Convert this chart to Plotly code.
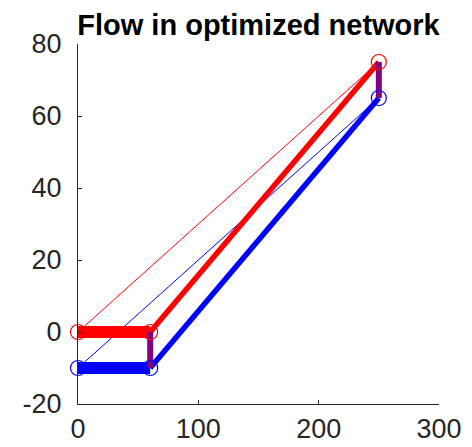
import plotly.graph_objects as go

# Node positions of the two layers (shared x, separate y)
x_nodes = [0, 60, 250]
red_nodes = [0, 0, 75]
blue_nodes = [-10, -10, 65]

# Links between node indices, drawn in order thin -> thick
links = [(0, 2), (0, 1), (1, 2)]
link_widths = [1, 12, 5.5]

x_ticks = [0, 100, 200, 300]
y_ticks = [-20, 0, 20, 40, 60, 80]
y_tick_text = ["-20", "0", "20", "40", "60", "80"]

RED = "#ff0000"
BLUE = "#0000ff"
PURPLE = "#800080"
AXIS = "#262626"

fig = go.Figure()

for (i, j), w in zip(links, link_widths):
    for ys, col in ((red_nodes, RED), (blue_nodes, BLUE)):
        fig.add_trace(go.Scatter(
            x=[x_nodes[i], x_nodes[j]], y=[ys[i], ys[j]],
            mode="lines", line=dict(color=col, width=w),
            showlegend=False, hoverinfo="skip", cliponaxis=False,
        ))

# Couplings between the two layers at the shared nodes
for k in (1, 2):
    fig.add_trace(go.Scatter(
        x=[x_nodes[k], x_nodes[k]], y=[red_nodes[k], blue_nodes[k]],
        mode="lines", line=dict(color=PURPLE, width=6),
        showlegend=False, hoverinfo="skip", cliponaxis=False,
    ))

for ys, col in ((red_nodes, RED), (blue_nodes, BLUE)):
    fig.add_trace(go.Scatter(
        x=x_nodes, y=ys, mode="markers",
        marker=dict(symbol="circle-open", size=15, color=col, line=dict(width=1.2, color=col)),
        showlegend=False, hoverinfo="skip", cliponaxis=False,
    ))

axis_common = dict(
    showline=True, linecolor=AXIS, linewidth=1, mirror=False,
    ticks="inside", ticklen=4, tickwidth=1, tickcolor=AXIS,
    showgrid=False, zeroline=False, automargin=False,
    tickfont=dict(family="Liberation Sans, Arial, sans-serif", size=27, color=AXIS),
)

fig.update_xaxes(range=[0, 300], tickvals=x_ticks, ticklabelstandoff=1, **axis_common)
fig.update_yaxes(range=[-20, 80], tickvals=y_ticks, ticktext=y_tick_text,
                 ticklabelstandoff=10, **axis_common)

fig.update_layout(
    width=472, height=447,
    margin=dict(l=78, r=33, t=44, b=43, autoexpand=False),
    paper_bgcolor="white", plot_bgcolor="white",
    title=dict(
        text="<b>Flow in optimized network</b>",
        font=dict(family="Liberation Sans, Arial, sans-serif", size=29, color="black"),
        x=(78 + 180.5) / 472, xanchor="center",
        y=1 - 25 / 447, yanchor="middle", yref="container", automargin=False,
    ),
)

fig.write_html("out.html")
